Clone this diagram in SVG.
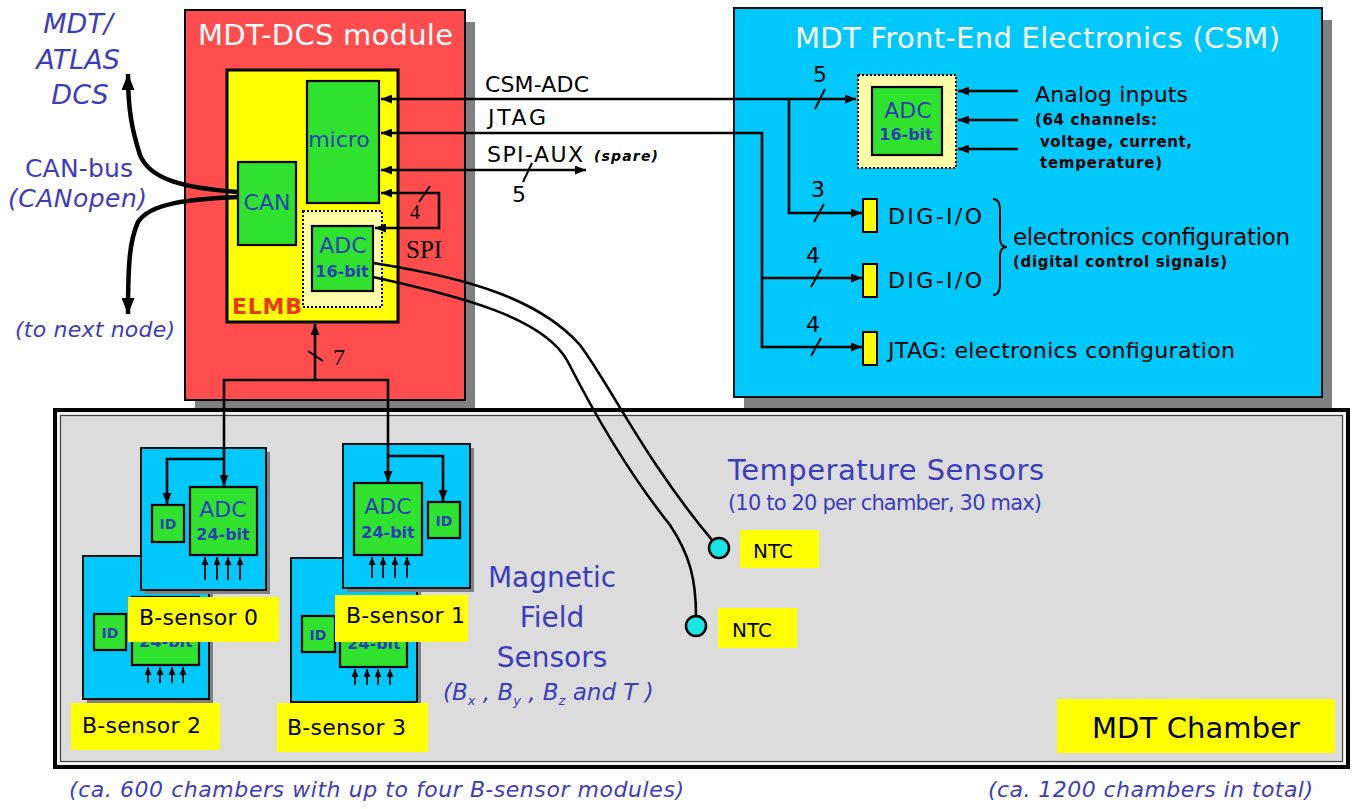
<svg xmlns="http://www.w3.org/2000/svg" width="1355" height="809" viewBox="0 0 1355 809">
<style>
text{font-family:"DejaVu Sans",Verdana,sans-serif;}
.ser{font-family:"Liberation Serif","DejaVu Serif",serif;}
.blu{fill:#3c3cbf;}
.it{font-style:italic;}
.bt{fill:#2b3fb5;}
.b{font-weight:bold;}
.red{fill:#ff4d4d;stroke:#000;stroke-width:2;}
.cy{fill:#00c8fa;stroke:#111;stroke-width:2;}
.gr{fill:#2ee22e;stroke:#000;stroke-width:2.2;}
.yl{fill:#ffff00;}
.yb{fill:#ffff00;stroke:#000;stroke-width:2;}
.dot{fill:#ffffa8;stroke:#000;stroke-width:2;stroke-dasharray:2 2;}
.sh{fill:#808080;}
.ln{fill:none;stroke:#000;stroke-width:2.6;}
.sm{fill:none;stroke:#000;stroke-width:1.8;}
.th{fill:none;stroke:#000;stroke-width:4.5;}
.sl{fill:none;stroke:#000;stroke-width:2;}
.ntc{fill:#18e6e6;stroke:#000;stroke-width:2.5;}
</style>
<defs>
<marker id="a" markerUnits="userSpaceOnUse" markerWidth="11" markerHeight="9" viewBox="0 0 11 9" refX="11" refY="4.5" orient="auto-start-reverse"><path d="M0,0L11,4.5L0,9z" fill="#000"/></marker>
<marker id="ab" markerUnits="userSpaceOnUse" markerWidth="16" markerHeight="13" viewBox="0 0 16 13" refX="16" refY="6.5" orient="auto-start-reverse"><path d="M0,0L16,6.5L0,13z" fill="#000"/></marker>
<marker id="as" markerUnits="userSpaceOnUse" markerWidth="8" markerHeight="7" viewBox="0 0 8 7" refX="8" refY="3.5" orient="auto-start-reverse"><path d="M0,0L8,3.5L0,7z" fill="#000"/></marker>
</defs>

<!-- shadows of the upper modules -->
<rect class="sh" x="195" y="22" width="280" height="389"/>
<rect class="sh" x="744" y="20" width="588" height="389"/>

<!-- MDT chamber -->
<g id="chamber">
<rect x="55" y="410" width="1293" height="357" fill="#dcdcdc" stroke="#000" stroke-width="4"/>
<rect x="58.5" y="413.5" width="1286" height="350" fill="none" stroke="#fff" stroke-width="2"/>
<rect x="60.5" y="415.5" width="1282" height="346" fill="none" stroke="#444" stroke-width="1.2"/>
<rect class="yl" x="1057" y="699" width="278" height="54"/>
<text x="1092" y="738" font-size="29" textLength="208">MDT Chamber</text>
</g>

<!-- MDT-DCS module -->
<g id="dcs-module">
<rect class="red" x="185" y="10" width="280" height="390"/>
<text x="198" y="45" font-size="29" fill="#fff" textLength="255">MDT-DCS module</text>
</g>
<g id="elmb">
<rect x="227" y="70" width="171" height="252" fill="#ffff00" stroke="#000" stroke-width="3"/>
<text x="232" y="314" font-size="22" class="b" fill="#e83a00" textLength="70">ELMB</text>
</g>
<g id="micro">
<rect class="gr" x="307" y="81" width="72" height="122"/>
<text x="339" y="147" font-size="22" class="bt" text-anchor="middle">micro</text>
</g>
<g id="can">
<rect class="gr" x="238" y="162" width="58" height="83"/>
<text x="267" y="210" font-size="22" class="bt" text-anchor="middle">CAN</text>
</g>
<g id="elmb-adc">
<rect class="dot" x="303" y="211" width="79" height="96"/>
<rect class="gr" x="312" y="226" width="61" height="65"/>
<text x="343" y="253" font-size="22" class="bt" text-anchor="middle">ADC</text>
<text x="342" y="277" font-size="16" class="bt b" text-anchor="middle">16-bit</text>
</g>

<!-- CSM -->
<g id="csm">
<rect class="cy" x="734" y="8" width="588" height="389"/>
<text x="795" y="48" font-size="29" fill="#fff" textLength="485">MDT Front-End Electronics (CSM)</text>
</g>
<g id="csm-adc">
<rect class="dot" x="858" y="75" width="98" height="93"/>
<rect class="gr" x="872" y="87" width="70" height="68"/>
<text x="908" y="118" font-size="22" class="bt" text-anchor="middle">ADC</text>
<text x="906" y="140" font-size="16" class="bt b" text-anchor="middle">16-bit</text>
</g>
<g id="analog-inputs">
<text x="1035" y="102" font-size="22" textLength="153">Analog inputs</text>
<text x="1035" y="125" font-size="15" class="b" textLength="122">(64 channels:</text>
<text x="1040" y="147" font-size="15" class="b" textLength="152">voltage, current,</text>
<text x="1040" y="168" font-size="15" class="b" textLength="122">temperature)</text>
</g>
<g id="dig-io-1">
<rect class="yb" x="863" y="199" width="14" height="33"/>
<text x="888" y="224" font-size="22" textLength="94">DIG-I/O</text>
</g>
<g id="dig-io-2">
<rect class="yb" x="863" y="264" width="14" height="33"/>
<text x="888" y="288" font-size="22" textLength="94">DIG-I/O</text>
</g>
<g id="config-label">
<path class="sl" d="M993,199 Q1000,199 1000,210 L1000,238 Q1000,247 1007,247 Q1000,247 1000,256 L1000,284 Q1000,295 993,295"/>
<text x="1013" y="245" font-size="23" textLength="277">electronics configuration</text>
<text x="1013" y="267" font-size="15" class="b" textLength="214">(digital control signals)</text>
</g>
<g id="jtag-io">
<rect class="yb" x="863" y="332" width="14" height="33"/>
<text x="888" y="358" font-size="22" textLength="347">JTAG: electronics configuration</text>
</g>

<!-- B-sensor modules -->
<g id="bsensor-2">
<rect class="sh" x="87" y="560" width="126" height="143"/>
<rect class="cy" x="83" y="556" width="126" height="143"/>
<rect class="gr" x="132" y="597" width="67" height="68"/>
<text x="166" y="647" font-size="16" class="bt b" text-anchor="middle">24-bit</text>
<rect class="gr" x="94" y="614" width="32" height="36"/>
<text x="110" y="638" font-size="14" class="bt b" text-anchor="middle">ID</text>
<rect class="yl" x="71" y="703" width="149" height="47"/>
<text x="82" y="733" font-size="22" textLength="119">B-sensor 2</text>
</g>
<g id="bsensor-3">
<rect class="sh" x="295" y="562" width="126" height="144"/>
<rect class="cy" x="291" y="558" width="126" height="144"/>
<rect class="gr" x="340" y="599" width="67" height="68"/>
<text x="374" y="649" font-size="16" class="bt b" text-anchor="middle">24-bit</text>
<rect class="gr" x="302" y="616" width="33" height="36"/>
<text x="318" y="640" font-size="14" class="bt b" text-anchor="middle">ID</text>
<rect class="yl" x="277" y="703" width="151" height="49"/>
<text x="287" y="735" font-size="22" textLength="119">B-sensor 3</text>
</g>
<g id="bsensor-0">
<rect class="sh" x="145" y="452" width="125" height="142"/>
<rect class="cy" x="141" y="448" width="125" height="142"/>
<rect class="gr" x="190" y="487" width="67" height="68"/>
<text x="223" y="517" font-size="22" class="bt" text-anchor="middle">ADC</text>
<text x="223" y="540" font-size="16" class="bt b" text-anchor="middle">24-bit</text>
<rect class="gr" x="152" y="505" width="32" height="37"/>
<text x="168" y="529" font-size="14" class="bt b" text-anchor="middle">ID</text>
<rect class="yl" x="128" y="597" width="151" height="45"/>
<text x="139" y="625" font-size="22" textLength="119">B-sensor 0</text>
</g>
<g id="bsensor-1">
<rect class="sh" x="347" y="448" width="127" height="144"/>
<rect class="cy" x="343" y="444" width="127" height="144"/>
<rect class="gr" x="354" y="483" width="68" height="72"/>
<text x="388" y="514" font-size="22" class="bt" text-anchor="middle">ADC</text>
<text x="388" y="538" font-size="16" class="bt b" text-anchor="middle">24-bit</text>
<rect class="gr" x="428" y="502" width="32" height="36"/>
<text x="444" y="526" font-size="14" class="bt b" text-anchor="middle">ID</text>
<rect class="yl" x="335" y="595" width="133" height="47"/>
<text x="346" y="623" font-size="22" textLength="119">B-sensor 1</text>
</g>

<!-- NTC sensors -->
<g id="ntc-1">
<circle class="ntc" cx="719" cy="548" r="10"/>
<rect class="yl" x="740" y="530" width="79" height="38"/>
<text x="753" y="558" font-size="20">NTC</text>
</g>
<g id="ntc-2">
<circle class="ntc" cx="696" cy="626" r="10"/>
<rect class="yl" x="718" y="608" width="79" height="40"/>
<text x="732" y="637" font-size="20">NTC</text>
</g>

<!-- free labels -->
<g id="labels">
<text class="blu it" x="78" y="33" font-size="27" text-anchor="middle">MDT/</text>
<text class="blu it" x="78" y="69" font-size="27" text-anchor="middle">ATLAS</text>
<text class="blu it" x="80" y="104" font-size="27" text-anchor="middle">DCS</text>
<text class="blu" x="25" y="177" font-size="25" textLength="108">CAN-bus</text>
<text class="blu it" x="8" y="207" font-size="25" textLength="139">(CANopen)</text>
<text class="blu it" x="15" y="337" font-size="22" textLength="160">(to next node)</text>
<text x="485" y="92" font-size="22" textLength="104">CSM-ADC</text>
<text x="488" y="125" font-size="22" textLength="58">JTAG</text>
<text x="487" y="162" font-size="22" textLength="96">SPI-AUX</text>
<text x="594" y="161" font-size="14" class="it b" textLength="64">(spare)</text>
<text x="519" y="202" font-size="22" text-anchor="middle">5</text>
<text x="820" y="82" font-size="22" text-anchor="middle">5</text>
<text x="818" y="197" font-size="22" text-anchor="middle">3</text>
<text x="813" y="263" font-size="22" text-anchor="middle">4</text>
<text x="813" y="332" font-size="22" text-anchor="middle">4</text>
<text class="ser" x="415" y="219" font-size="20" text-anchor="middle">4</text>
<text class="ser" x="406" y="258" font-size="25">SPI</text>
<text class="ser" x="333" y="365" font-size="24">7</text>
<text class="blu" x="728" y="480" font-size="29" textLength="316">Temperature Sensors</text>
<text class="blu" x="728" y="510" font-size="21" textLength="314">(10 to 20 per chamber, 30 max)</text>
<text class="blu" x="552" y="587" font-size="28" text-anchor="middle">Magnetic</text>
<text class="blu" x="552" y="627" font-size="28" text-anchor="middle">Field</text>
<text class="blu" x="552" y="667" font-size="28" text-anchor="middle">Sensors</text>
<text class="blu it" x="443" y="700" font-size="23">(B<tspan font-size="13" dy="5">x</tspan><tspan dy="-5"> , B</tspan><tspan font-size="13" dy="5">y</tspan><tspan dy="-5"> , B</tspan><tspan font-size="13" dy="5">z</tspan><tspan dy="-5"> and T )</tspan></text>
<text class="blu it" x="69" y="797" font-size="22" textLength="615">(ca. 600 chambers with up to four B-sensor modules)</text>
<text class="blu it" x="988" y="797" font-size="22" textLength="325">(ca. 1200 chambers in total)</text>
</g>

<!-- connectors -->
<g id="connectors">
<path class="th" d="M238,192 C185,188 150,180 140,155 C132,130 128,110 128,74" marker-end="url(#ab)"/>
<path class="th" d="M238,197 C190,199 150,203 138,222 C130,240 128,260 128,314" marker-end="url(#ab)"/>
<path class="ln" d="M381,99 H856" marker-start="url(#a)" marker-end="url(#a)"/>
<path class="ln" d="M789,99 V213 H862" marker-end="url(#a)"/>
<path class="ln" d="M381,133 H762 V347 H862" marker-start="url(#a)" marker-end="url(#a)"/>
<path class="ln" d="M762,278 H862" marker-end="url(#a)"/>
<path class="ln" d="M381,170 H586" marker-start="url(#a)" marker-end="url(#a)"/>
<path class="ln" d="M381,193 H439 V228 H375" marker-start="url(#a)" marker-end="url(#a)"/>
<path class="ln" d="M1018,91 H958" marker-end="url(#a)"/>
<path class="ln" d="M1018,120 H958" marker-end="url(#a)"/>
<path class="ln" d="M1018,149 H958" marker-end="url(#a)"/>
<path class="ln" d="M315,380 V324" marker-end="url(#a)"/>
<path class="ln" d="M224,486 V380 H388 V482" marker-start="url(#a)" marker-end="url(#a)"/>
<path class="ln" d="M224,459 H167 V504" marker-end="url(#a)"/>
<path class="ln" d="M388,456 H443 V501" marker-end="url(#a)"/>
<path class="sl" d="M815,109 L825,89 M523,182 L532,163 M814,222 L824,204 M811,287 L821,269 M811,356 L821,338 M308,351 L323,361 M419,202 L430,186"/>
<path class="ln" stroke-width="2.4" d="M373,263 C470,278 540,300 580,345 C610,385 645,460 712,540"/>
<path class="ln" stroke-width="2.4" d="M373,277 C460,296 545,318 568,362 C595,415 630,475 670,525 C690,555 696,580 696,616"/>
<path class="sm" d="M205,580 V557" marker-end="url(#as)"/>
<path class="sm" d="M217,580 V557" marker-end="url(#as)"/>
<path class="sm" d="M228,580 V557" marker-end="url(#as)"/>
<path class="sm" d="M240,580 V557" marker-end="url(#as)"/>
<path class="sm" d="M148,683 V667" marker-end="url(#as)"/>
<path class="sm" d="M160,683 V667" marker-end="url(#as)"/>
<path class="sm" d="M172,683 V667" marker-end="url(#as)"/>
<path class="sm" d="M183,683 V667" marker-end="url(#as)"/>
<path class="sm" d="M372,578 V557" marker-end="url(#as)"/>
<path class="sm" d="M383,578 V557" marker-end="url(#as)"/>
<path class="sm" d="M395,578 V557" marker-end="url(#as)"/>
<path class="sm" d="M407,578 V557" marker-end="url(#as)"/>
<path class="sm" d="M355,685 V669" marker-end="url(#as)"/>
<path class="sm" d="M367,685 V669" marker-end="url(#as)"/>
<path class="sm" d="M378,685 V669" marker-end="url(#as)"/>
<path class="sm" d="M390,685 V669" marker-end="url(#as)"/>
</g>
</svg>
